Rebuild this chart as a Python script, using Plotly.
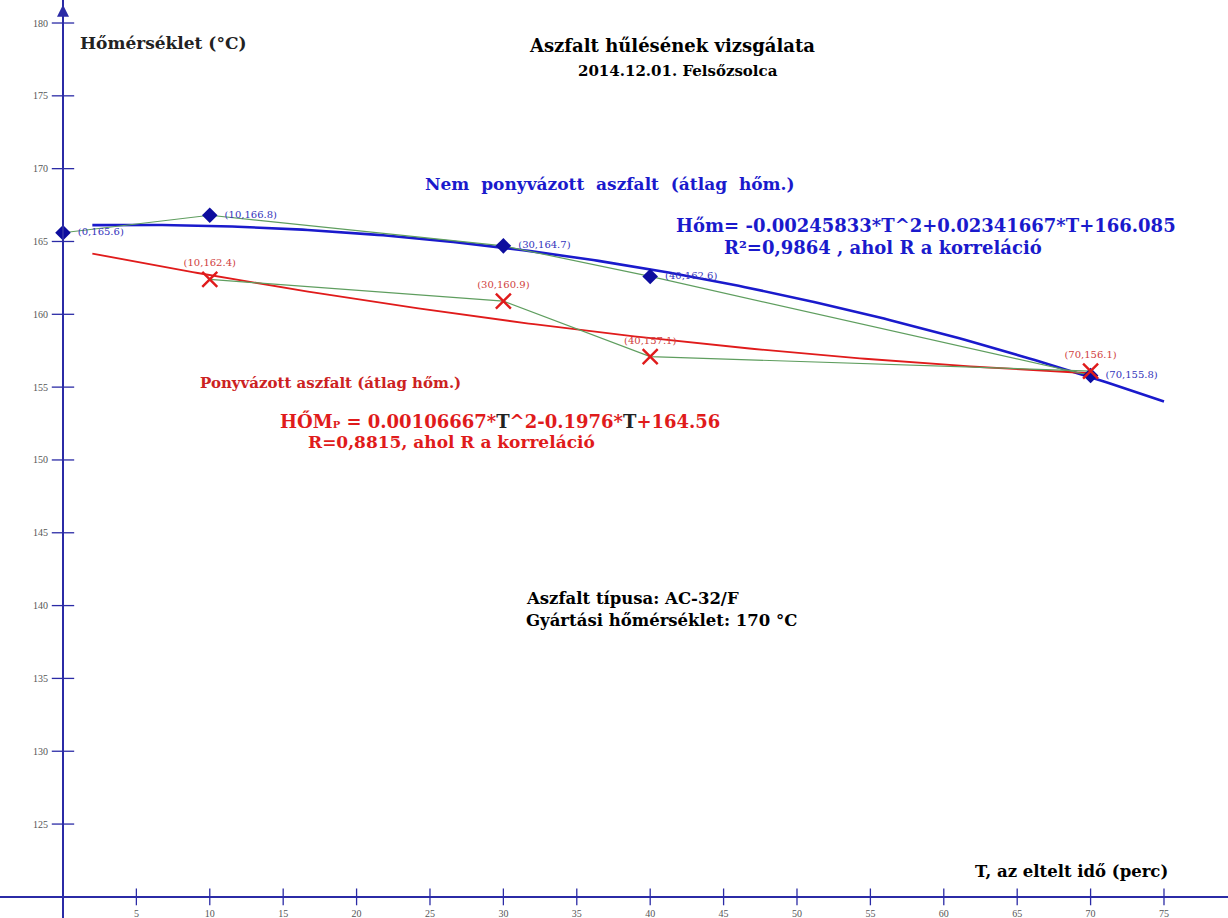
import numpy as np
import plotly.graph_objects as go

# Elapsed time (min) and mean temperature (°C) of the asphalt
t_open = [0, 10, 30, 40, 70]
temp_open = [165.6, 166.8, 164.7, 162.6, 155.8]
t_cover = [10, 30, 40, 70]
temp_cover = [162.4, 160.9, 157.1, 156.1]

# Quadratic trend coefficients (a*T^2 + b*T + c) as printed on the chart
coef_open = [-0.00245833, 0.02341667, 166.085]
coef_cover = [0.00106667, -0.1976, 164.56]
trend_open_span = [2, 75]
trend_cover_span = [2, 70]

x_ticks = [5, 10, 15, 20, 25, 30, 35, 40, 45, 50, 55, 60, 65, 70, 75]
y_ticks = [125, 130, 135, 140, 145, 150, 155, 160, 165, 170, 175, 180]

W, H = 1228, 918
X_RANGE = [-4.29, 79.36]
Y_RANGE = [118.55, 181.58]
AXIS_Y = 120

NAVY = "#2b2ba6"
BLUE = "#1a1acc"
RED = "#e01b1b"
GREEN = "#5f9e5f"
SERIF = "Liberation Serif, Times New Roman, serif"
WIDE = "DejaVu Serif, serif"


def paper(px, py):
    return px / W, 1 - py / H


def label(t, v):
    return f"({t:g},{v:g})"


fig = go.Figure()

# trend curves from the printed coefficients
for coef, span, color, width in [
    (coef_open, trend_open_span, BLUE, 2.6),
    (coef_cover, trend_cover_span, RED, 1.8),
]:
    tt = np.linspace(span[0], span[1], 200)
    fig.add_trace(go.Scatter(x=tt, y=np.polyval(coef, tt), mode="lines",
                             line=dict(color=color, width=width),
                             hoverinfo="skip", showlegend=False))

# measured points joined by thin green polylines
fig.add_trace(go.Scatter(x=t_open, y=temp_open, mode="lines",
                         line=dict(color=GREEN, width=1.2), showlegend=False))
fig.add_trace(go.Scatter(x=t_cover, y=temp_cover, mode="lines",
                         line=dict(color=GREEN, width=1.2), showlegend=False))

fig.add_trace(go.Scatter(
    x=t_open, y=temp_open, mode="markers+text",
    marker=dict(symbol="diamond", size=12, color="#0d0d9e"),
    text=["  " + label(t, v) for t, v in zip(t_open, temp_open)],
    textposition="middle right",
    textfont=dict(family=WIDE, size=10, color="#3333bb"),
    showlegend=False))

fig.add_trace(go.Scatter(
    x=t_cover, y=temp_cover, mode="markers+text",
    marker=dict(symbol="x-thin", size=15, line=dict(color=RED, width=2.4)),
    text=[label(t, v) for t, v in zip(t_cover, temp_cover)],
    textposition="top center",
    textfont=dict(family=WIDE, size=10, color="#d04040"),
    showlegend=False))

# axis tick marks crossing the axis lines
fig.add_trace(go.Scatter(
    x=x_ticks, y=[AXIS_Y] * len(x_ticks), mode="markers",
    marker=dict(symbol="line-ns", size=12, line=dict(color=NAVY, width=1.3)),
    hoverinfo="skip", showlegend=False))
fig.add_trace(go.Scatter(
    x=[0] * len(y_ticks), y=y_ticks, mode="markers",
    marker=dict(symbol="line-ew", size=16, line=dict(color=NAVY, width=1.3)),
    hoverinfo="skip", showlegend=False))

x_pos = (AXIS_Y - Y_RANGE[0]) / (Y_RANGE[1] - Y_RANGE[0])
y_pos = (0 - X_RANGE[0]) / (X_RANGE[1] - X_RANGE[0])

fig.update_layout(
    width=W, height=H, margin=dict(l=0, r=0, t=0, b=0),
    plot_bgcolor="white", paper_bgcolor="white",
    font=dict(family=SERIF),
    xaxis=dict(range=X_RANGE, domain=[0, 1], anchor="free", position=x_pos,
               showgrid=False, zeroline=False, showline=True,
               linecolor=NAVY, linewidth=2, ticks="",
               tickvals=x_ticks, ticklabelstandoff=7,
               tickfont=dict(family=SERIF, size=10, color="#555555")),
    yaxis=dict(range=Y_RANGE, domain=[0, 1], anchor="free", position=y_pos,
               showgrid=False, zeroline=False, showline=True,
               linecolor=NAVY, linewidth=2, ticks="",
               tickvals=y_ticks, ticklabelstandoff=12,
               tickfont=dict(family=SERIF, size=10, color="#555555")),
)

# arrow head on top of the vertical axis
fig.add_annotation(x=0, y=181.25, xref="x", yref="y", ax=0, ay=14,
                   showarrow=True, arrowhead=2, arrowsize=1.2, arrowwidth=2,
                   arrowcolor=NAVY, text="")


def add_text(px, py, text, size, color="black", xanchor="center"):
    x, y = paper(px, py)
    fig.add_annotation(x=x, y=y, xref="paper", yref="paper", text=text,
                       showarrow=False, xanchor=xanchor, yanchor="middle",
                       font=dict(family=WIDE, size=size, color=color))


add_text(78, 43, "<b>Hőmérséklet (°C)</b>", 17, "#222222", "left")
add_text(672, 45, "<b>Aszfalt hűlésének vizsgálata</b>", 18)
add_text(678, 71, "<b>2014.12.01. Felsőzsolca</b>", 15)
add_text(610, 184, "<b>Nem  ponyvázott  aszfalt  (átlag  hőm.)</b>", 17, BLUE)
add_text(1178, 226, "<b>Hőm= -0.00245833*T^2+0.02341667*T+166.085</b>", 18,
         BLUE, "right")
add_text(722, 247, "<b>R²=0,9864 , ahol R a korreláció</b>", 18, BLUE, "left")
add_text(198, 383, "<b>Ponyvázott aszfalt (átlag hőm.)</b>", 15, "#cc2222",
         "left")
add_text(278, 421,
         "<b>HŐM<span style='font-size:10px'>P</span> = 0.00106667*"
         "<span style='color:#222222'>T</span>^2-0.1976*"
         "<span style='color:#222222'>T</span>+164.56</b>", 18, RED, "left")
add_text(306, 442, "<b>R=0,8815, ahol R a korreláció</b>", 17, RED, "left")
add_text(524, 598, "<b>Aszfalt típusa: AC-32/F</b>", 16.5, "black", "left")
add_text(524, 620, "<b>Gyártási hőmérséklet: 170 °C</b>", 16.5, "black",
         "left")
add_text(1170, 871, "<b>T, az eltelt idő (perc)</b>", 16.5, "black", "right")

fig.write_html("out.html")
